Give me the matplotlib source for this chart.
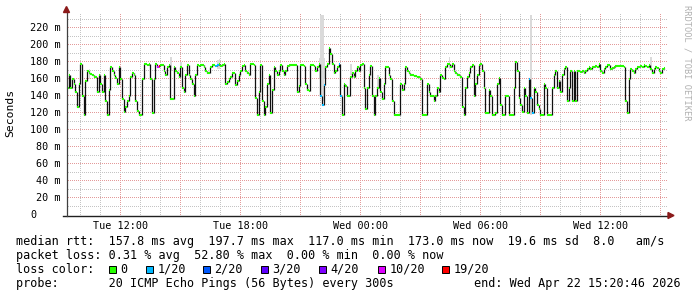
import numpy as np
import pandas as pd
import matplotlib
matplotlib.use('Agg')
import matplotlib.pyplot as plt
import matplotlib.dates as mdates
from matplotlib.collections import LineCollection
from matplotlib.patches import Rectangle, Polygon

# ---- data ----
start = pd.Timestamp('2026-04-21 09:20:46')
end = pd.Timestamp('2026-04-22 15:20:46')
step_min = 5

# median rtt in ms, one value per 5 minute step
median_ms = [
    150, 165, 150, 160, 155, 145, 128, 155, 178, 140, 118, 158, 170, 167, 166, 165, 163, 163, 145, 165,
    155, 145, 165, 135, 118, 148, 175, 170, 165, 162, 155, 175, 160, 137, 122, 128, 135, 140, 163, 168,
    165, 135, 123, 118, 118, 160, 178, 178, 177, 178, 160, 120, 160, 178, 175, 176, 177, 177, 170,
    165, 175, 177, 137, 137, 175, 170, 168, 163, 175, 150, 145, 165, 177, 165, 160, 155, 140, 165, 177,
    176, 177, 177, 175, 170, 167, 167, 175, 177, 177, 176, 177, 178, 176, 177, 178, 155, 157, 160, 163,
    168, 168, 153, 158, 165, 170, 176, 177, 170, 168, 165, 178, 178, 177, 138, 118, 145, 177, 135, 118,
    127, 155, 165, 120, 148, 175, 170, 165, 170, 177, 170, 165, 170, 176, 177, 177, 177, 177, 177, 145,
    152, 177, 177, 176, 155, 148, 146, 177, 177, 176, 170, 175, 178, 140, 130, 153, 175, 178, 197, 190,
    178, 168, 170, 175, 178, 140, 118, 155, 152, 140, 140, 163, 168, 163, 170, 175, 170, 177, 178, 150,
    125, 150, 165, 176, 140, 118, 140, 150, 162, 145, 137, 155, 175, 175, 165, 160, 135, 118, 118, 118,
    118, 155, 148, 155, 175, 170, 167, 165, 165, 164, 164, 163, 163, 160, 118, 118, 118, 155, 145, 140,
    140, 135, 140, 150, 145, 165, 162, 160, 175, 178, 178, 175, 178, 170, 168, 165, 165, 163, 128, 118,
    150, 163, 168, 175, 177, 140, 155, 165, 177, 178, 170, 150, 120, 120, 148, 140, 118, 118, 120, 155,
    162, 130, 118, 118, 140, 140, 118, 118, 118, 150, 180, 170, 138, 130, 122, 150, 140, 120, 160, 138,
    120, 150, 145, 130, 125, 118, 118, 155, 150, 118, 118, 118, 150, 165, 170, 150, 158, 145, 165, 172,
    175, 135, 150, 170, 135, 170, 135, 170, 170, 169, 170, 168, 170, 172, 174, 172, 175, 174, 176, 175,
    178, 170, 168, 172, 175, 177, 177, 172, 173, 175, 176, 176, 176, 176, 176, 175, 135, 120, 160, 172,
    170, 168, 172, 175, 174, 176, 175, 177, 176, 175, 177, 172, 168, 172, 175, 173, 170, 168, 172, 173,
]

# steps with packet loss (index, lost pings out of 20)
loss_idx = [54, 55, 89, 90, 152, 153, 154, 163, 164, 277, 278, 279]
loss_cnt = [10, 19, 1, 1, 1, 1, 1, 1, 1, 1, 1, 1]

# smoke (ping spread) where it is visible
smoke_idx = [13, 62, 68, 90, 91, 151, 152, 153, 154, 170, 186, 229, 278, 350]
smoke_lo = [160, 170, 172, 172, 172, 160, 140, 135, 160, 165, 150, 172, 118, 170]
smoke_hi = [172, 186, 180, 183, 184, 185, 236, 236, 185, 178, 165, 186, 236, 186]

loss_levels = [0, 1, 2, 3, 4, 10, 19]
loss_labels = ['0', '1/20', '2/20', '3/20', '4/20', '10/20', '19/20']
loss_colors = ['#26ff00', '#00b8ff', '#0059ff', '#5e00ff', '#7e00ff', '#dd00ff', '#ff0000']

yticks = list(range(0, 221, 20))

W, H = 697, 297
MONO = 'DejaVu Sans Mono'
GRID = '#c4c4c4'
MGRID = '#e39a9a'


def fx(px):
    return px / W


def fy(py):
    return 1 - py / H


fig = plt.figure(figsize=(W / 100, H / 100), dpi=100)
fig.patch.set_facecolor('white')

# plot area: x 67..667 px, y 13..215.5 px
AW, AH = 600, 202.5
ax = fig.add_axes([fx(67), fy(215.5), fx(667) - fx(67), fy(13) - fy(215.5)])
ax.set_xlim(mdates.date2num(start), mdates.date2num(end))
ax.set_ylim(0, 238)
ax.set_axis_off()

# dotted grid, one pixel on / one pixel off
ydots = np.arange(1, AH, 2) / AH
xdots = np.arange(1, AW, 2) / AW
for h in pd.date_range(start.ceil('h'), end, freq='h'):
    c = MGRID if h.hour % 3 == 0 else GRID
    xs = np.full(ydots.size, mdates.date2num(h))
    ax.plot(xs, ydots, ',', color=c, transform=ax.get_xaxis_transform(), zorder=1)
for yv in range(10, 238, 10):
    c = MGRID if yv % 20 == 0 else GRID
    ax.plot(xdots, np.full(xdots.size, yv), ',', color=c, transform=ax.get_yaxis_transform(),
            zorder=1)

# time of each step
n = len(median_ms)
t = mdates.date2num(start + pd.to_timedelta(np.arange(n + 1) * step_min, unit='m'))
v = np.array(median_ms, dtype=float)
dt = t[1] - t[0]

# smoke
for i, lo, hi in zip(smoke_idx, smoke_lo, smoke_hi):
    ax.bar(t[i], hi - lo, bottom=lo, width=dt, align='edge', color='#dadada', lw=0, zorder=2)

# loss per step
loss = np.zeros(n, dtype=int)
for i, c in zip(loss_idx, loss_cnt):
    loss[i] = c
col_of = dict(zip(loss_levels, loss_colors))

vert = [[(t[i + 1], v[i]), (t[i + 1], v[i + 1])] for i in range(n - 1)]
ax.add_collection(LineCollection(vert, colors='#111111', linewidths=0.9, zorder=3))
horiz = [[(t[i], v[i]), (t[i + 1], v[i])] for i in range(n)]
ax.add_collection(LineCollection(horiz, colors=[col_of[c] for c in loss], linewidths=1.5,
                                 capstyle='butt', zorder=4))

# axes lines and arrows
ax.plot([-4 / AW, 1.0], [0, 0], transform=ax.transAxes, color='#202020', lw=1.0,
        clip_on=False, zorder=5)
ax.plot([-0.5 / AW, -0.5 / AW], [0, 1.0], transform=ax.transAxes, color='#404040', lw=0.9,
        clip_on=False, zorder=5)
fig.patches.append(Polygon([(fx(63.5), fy(12.5)), (fx(69.5), fy(12.5)), (fx(66.5), fy(6.5))],
                           closed=True, color='#8b1a1a', transform=fig.transFigure))
fig.patches.append(Polygon([(fx(668), fy(212.5)), (fx(668), fy(218.5)), (fx(674), fy(215.5))],
                           closed=True, color='#8b1a1a', transform=fig.transFigure))

# y labels
ytr = ax.get_yaxis_transform()
for y in yticks:
    if y == 0:
        ax.text((33.5 - 67) / AW, y, '0', transform=ytr, ha='center', va='center',
                family=MONO, fontsize=7.3)
    else:
        ax.text((60.5 - 67) / AW, y, f'{y} m', transform=ytr, ha='right', va='center',
                family=MONO, fontsize=7.3)

# x labels
for tk in pd.date_range('2026-04-21 12:00', '2026-04-22 12:00', freq='6h'):
    ax.text(mdates.date2num(tk), -10 / 0.85, tk.strftime('%a %H:%M'), ha='center', va='center',
            family=MONO, fontsize=7.3, clip_on=False)

fig.text(fx(10), fy(113), 'Seconds', rotation=90, ha='center', va='center',
         family=MONO, fontsize=8.2)
fig.text(fx(687), fy(5), 'RRDTOOL / TOBI OETIKER', rotation=270, ha='center', va='top',
         family=MONO, fontsize=6.2, color='#b0b0b0')

# legend text
fs = 8.5
fig.text(fx(16), fy(241), 'median rtt:  157.8 ms avg  197.7 ms max  117.0 ms min  173.0 ms now  '
         '19.6 ms sd  8.0   am/s', ha='left', va='center', family=MONO, fontsize=fs)
fig.text(fx(16), fy(255.5), 'packet loss: 0.31 % avg  52.80 % max  0.00 % min  0.00 % now',
         ha='left', va='center', family=MONO, fontsize=fs)
fig.text(fx(16), fy(269.3), 'loss color:', ha='left', va='center', family=MONO, fontsize=fs)
sq_x = [109, 146, 203, 261, 319, 378, 442]
for sx, lab, c in zip(sq_x, loss_labels, loss_colors):
    fig.patches.append(Rectangle((fx(sx), fy(273)), 7 / W, 7 / H, facecolor=c,
                                 edgecolor='black', lw=0.7, transform=fig.transFigure))
    fig.text(fx(sx + 11.5), fy(269.3), lab, ha='left', va='center', family=MONO, fontsize=fs)
fig.text(fx(16), fy(283.3), 'probe:       20 ICMP Echo Pings (56 Bytes) every 300s',
         ha='left', va='center', family=MONO, fontsize=fs)
fig.text(fx(681), fy(283.3), 'end: Wed Apr 22 15:20:46 2026', ha='right', va='center',
         family=MONO, fontsize=fs)

fig.savefig('out.png', dpi=100)
